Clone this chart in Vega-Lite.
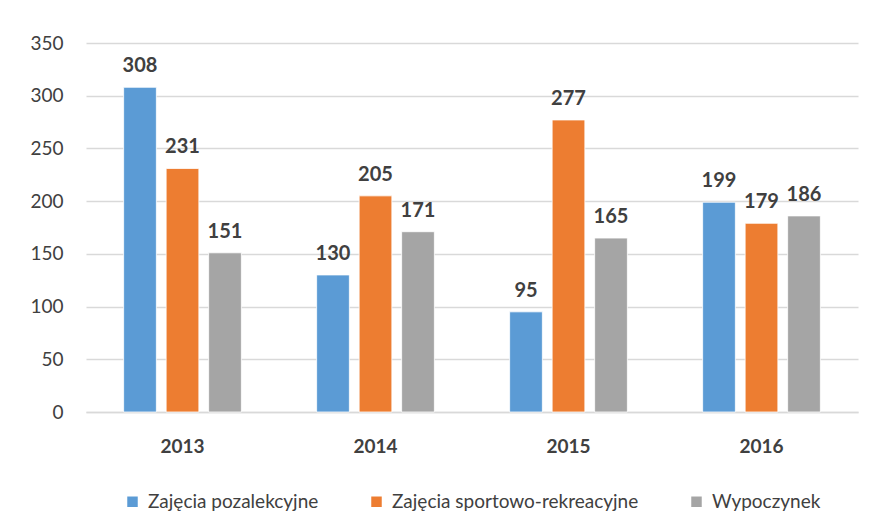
{
  "$schema": "https://vega.github.io/schema/vega-lite/v6.json",
  "width": 772,
  "height": 369,
  "autosize": {"type": "none"},
  "padding": {"left": 86, "top": 43, "right": 16, "bottom": 112},
  "background": "white",
  "data": {
    "values": [
      {"rok": "2013", "kategoria": "Zajęcia pozalekcyjne", "wartosc": 308},
      {"rok": "2013", "kategoria": "Zajęcia sportowo-rekreacyjne", "wartosc": 231},
      {"rok": "2013", "kategoria": "Wypoczynek", "wartosc": 151},
      {"rok": "2014", "kategoria": "Zajęcia pozalekcyjne", "wartosc": 130},
      {"rok": "2014", "kategoria": "Zajęcia sportowo-rekreacyjne", "wartosc": 205},
      {"rok": "2014", "kategoria": "Wypoczynek", "wartosc": 171},
      {"rok": "2015", "kategoria": "Zajęcia pozalekcyjne", "wartosc": 95},
      {"rok": "2015", "kategoria": "Zajęcia sportowo-rekreacyjne", "wartosc": 277},
      {"rok": "2015", "kategoria": "Wypoczynek", "wartosc": 165},
      {"rok": "2016", "kategoria": "Zajęcia pozalekcyjne", "wartosc": 199},
      {"rok": "2016", "kategoria": "Zajęcia sportowo-rekreacyjne", "wartosc": 179},
      {"rok": "2016", "kategoria": "Wypoczynek", "wartosc": 186}
    ]
  },
  "encoding": {
    "x": {
      "field": "rok", "type": "nominal",
      "scale": {"paddingInner": 0.39, "paddingOuter": 0.195},
      "axis": {
        "title": null, "labelAngle": 0, "ticks": false,
        "domainColor": "#d9d9d9", "domainWidth": 1.5,
        "labelFont": "Lato", "labelFontSize": 19, "labelFontWeight": "bold",
        "labelColor": "#404040", "labelPadding": 25
      }
    },
    "xOffset": {
      "field": "kategoria", "type": "nominal",
      "sort": ["Zajęcia pozalekcyjne", "Zajęcia sportowo-rekreacyjne", "Wypoczynek"],
      "scale": {"paddingInner": 0.23, "paddingOuter": 0}
    },
    "y": {
      "field": "wartosc", "type": "quantitative",
      "scale": {"domain": [0, 350]},
      "axis": {
        "title": null, "values": [0, 50, 100, 150, 200, 250, 300, 350],
        "domain": false, "ticks": false,
        "gridColor": "#d9d9d9", "gridWidth": 1.5,
        "labelFont": "Lato", "labelFontSize": 19, "labelColor": "#404040",
        "labelPadding": 23
      }
    }
  },
  "layer": [
    {
      "mark": {"type": "bar", "stroke": "white", "strokeWidth": 0.8},
      "encoding": {
        "color": {
          "field": "kategoria", "type": "nominal",
          "sort": ["Zajęcia pozalekcyjne", "Zajęcia sportowo-rekreacyjne", "Wypoczynek"],
          "scale": {"range": ["#5B9BD5", "#ED7D31", "#A5A5A5"]},
          "legend": {
            "title": null, "orient": "bottom", "direction": "horizontal",
            "symbolType": "square", "symbolSize": 110, "symbolStrokeWidth": 0,
            "labelFont": "Lato", "labelFontSize": 19, "labelColor": "#404040",
            "labelLimit": 0,
            "columnPadding": 48, "labelOffset": 6, "offset": 36
          }
        }
      }
    },
    {
      "mark": {
        "type": "text", "baseline": "middle", "dy": -21,
        "font": "Lato", "fontSize": 20, "fontWeight": "bold", "color": "#404040"
      },
      "encoding": {
        "text": {"field": "wartosc", "type": "quantitative"}
      }
    }
  ],
  "config": {
    "view": {"stroke": null},
    "legend": {"layout": {"bottom": {"anchor": "middle"}}}
  }
}
